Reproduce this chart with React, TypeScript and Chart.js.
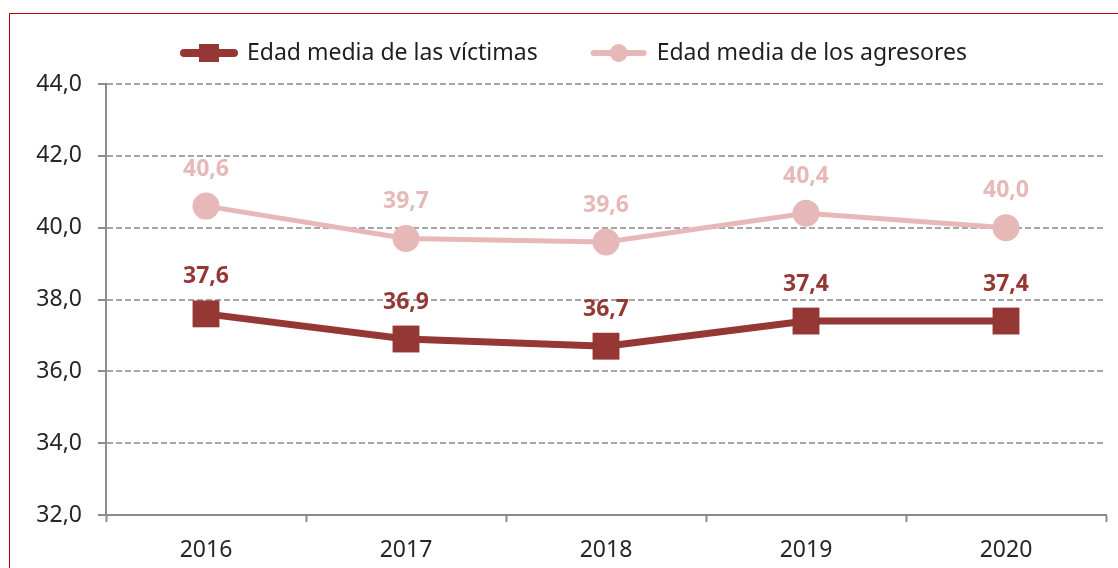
import React, { useEffect, useRef } from "react";
import { Chart, registerables } from "chart.js";

Chart.register(...registerables);

const years = ["2016", "2017", "2018", "2019", "2020"];
const victimAge = [37.6, 36.9, 36.7, 37.4, 37.4];
const aggressorAge = [40.6, 39.7, 39.6, 40.4, 40.0];
const seriesNames = ["Edad media de las víctimas", "Edad media de los agresores"];
const yMin = 32;
const yMax = 44;
const yStep = 2;

const VICTIM_COLOR = "#953735";
const AGGR_COLOR = "#E6B9B8";
const FONT = "'Noto Sans', 'Open Sans', sans-serif";

const fmt = (v: number) => v.toFixed(1).replace(".", ",");

const labelPlugin = {
  id: "pointLabels",
  afterDatasetsDraw(chart: any) {
    const ctx = chart.ctx;
    ctx.save();
    ctx.font = `bold 23px ${FONT}`;
    ctx.textAlign = "center";
    ctx.textBaseline = "middle";
    chart.data.datasets.forEach((ds: any, i: number) => {
      const meta = chart.getDatasetMeta(i);
      ctx.fillStyle = ds.borderColor;
      meta.data.forEach((pt: any, j: number) => {
        ctx.fillText(fmt(ds.data[j]), pt.x, pt.y - 37);
      });
    });
    ctx.restore();
  },
};

const legendPlugin = {
  id: "customLegend",
  afterDraw(chart: any) {
    const ctx = chart.ctx;
    ctx.save();
    ctx.font = `23px ${FONT}`;
    ctx.textBaseline = "middle";
    ctx.textAlign = "left";
    const symW = 58;
    const gapText = 9;
    const gapItem = 52;
    const y = 53;
    const widths = chart.data.datasets.map((ds: any) => ctx.measureText(ds.label).width);
    const total = widths.reduce((a: number, w: number) => a + symW + gapText + w, 0) + gapItem * (widths.length - 1);
    let x = 573.5 - total / 2;
    chart.data.datasets.forEach((ds: any, i: number) => {
      ctx.strokeStyle = ds.borderColor;
      ctx.fillStyle = ds.borderColor;
      ctx.lineCap = "round";
      ctx.lineWidth = i === 0 ? 8 : 6;
      ctx.beginPath();
      ctx.moveTo(x + 4, y);
      ctx.lineTo(x + symW - 4, y);
      ctx.stroke();
      const cx = x + symW / 2;
      if (i === 0) {
        ctx.fillRect(cx - 10, y - 9, 20, 18);
      } else {
        ctx.beginPath();
        ctx.arc(cx, y, 9, 0, Math.PI * 2);
        ctx.fill();
      }
      ctx.fillStyle = "#1f1f1f";
      ctx.fillText(ds.label, x + symW + gapText, y);
      x += symW + gapText + widths[i] + gapItem;
    });
    ctx.restore();
  },
};

export default function App() {
  const canvasRef = useRef<HTMLCanvasElement | null>(null);

  useEffect(() => {
    if (!canvasRef.current) return;
    const chart = new Chart(canvasRef.current, {
      type: "line",
      data: {
        labels: years,
        datasets: [
          {
            label: seriesNames[0],
            data: victimAge,
            borderColor: VICTIM_COLOR,
            backgroundColor: VICTIM_COLOR,
            borderWidth: 7,
            pointStyle: "rect",
            pointRadius: 19,
            pointHoverRadius: 19,
            pointBorderWidth: 0,
            tension: 0,
          },
          {
            label: seriesNames[1],
            data: aggressorAge,
            borderColor: AGGR_COLOR,
            backgroundColor: AGGR_COLOR,
            borderWidth: 5,
            pointStyle: "circle",
            pointRadius: 13.5,
            pointHoverRadius: 13.5,
            pointBorderWidth: 0,
            tension: 0,
          },
        ],
      },
      options: {
        responsive: false,
        animation: false,
        devicePixelRatio: 1,
        layout: { autoPadding: false, padding: { top: 84, right: 12, left: 0, bottom: 0 } },
        plugins: {
          legend: { display: false },
          tooltip: { enabled: false },
        },
        scales: {
          x: {
            offset: true,
            afterFit: (scale: any) => {
              scale.height = 53;
              scale.paddingLeft = 0;
              scale.paddingRight = 0;
            },
            grid: {
              display: true,
              drawOnChartArea: false,
              drawTicks: true,
              tickLength: 7,
              tickColor: "#8c8c8c",
              tickWidth: 2,
              offset: true,
            },
            border: { display: true, color: "#8c8c8c", width: 2 },
            ticks: {
              color: "#262626",
              font: { family: FONT, size: 23 },
              padding: 15,
            },
          },
          y: {
            min: yMin,
            max: yMax,
            afterFit: (scale: any) => {
              scale.width = 106;
            },
            ticks: {
              stepSize: yStep,
              color: "#262626",
              font: { family: FONT, size: 23 },
              padding: 16,
              callback: (v: any) => fmt(Number(v)),
            },
            grid: {
              color: "#a6a6a6",
              lineWidth: 2,
              tickLength: 8,
              tickBorderDash: [],
              tickColor: "#8c8c8c",
              tickWidth: 2,
            },
            border: { display: true, color: "#8c8c8c", width: 2, dash: [6, 3] },
          },
        },
      },
      plugins: [labelPlugin, legendPlugin],
    });
    return () => chart.destroy();
  }, []);

  return (
    <div
      style={{
        position: "fixed",
        left: 0,
        top: 0,
        width: 1118,
        height: 568,
        overflow: "hidden",
        background: "#ffffff",
      }}
    >
      <canvas
        ref={canvasRef}
        width={1118}
        height={568}
        style={{ position: "absolute", left: 0, top: 0, width: 1118, height: 568, display: "block" }}
      />
      <div
        style={{
          position: "absolute",
          left: 9,
          top: 13,
          width: 1200,
          height: 700,
          border: "1px solid #c00000",
          pointerEvents: "none",
        }}
      />
    </div>
  );
}
